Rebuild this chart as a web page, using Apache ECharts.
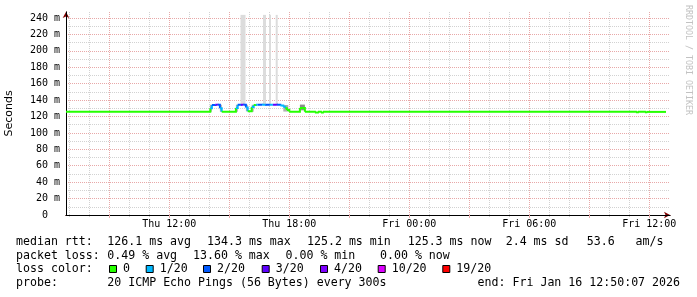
<!DOCTYPE html>
<html><head><meta charset="utf-8">
<script src="https://cdn.jsdelivr.net/npm/echarts@6/dist/echarts.min.js"></script>
<style>html,body{margin:0;padding:0;background:#fff}#c{width:697px;height:297px}</style>
</head><body><div id="c"></div>
<script>
// ---------------- data ----------------
// time in hours since Thu 00:00
const startHour = 6.835;   // Thu 06:50:07
const endHour = 36.835;    // Fri 12:50:07
const xTickHours = [12, 18, 24, 30, 36];
const xTickLabels = ['Thu 12:00', 'Thu 18:00', 'Fri 00:00', 'Fri 06:00', 'Fri 12:00'];
const yTickValues = [0, 20, 40, 60, 80, 100, 120, 140, 160, 180, 200, 220, 240];
const yTickLabels = ['0  ', '20 m', '40 m', '60 m', '80 m', '100 m', '120 m', '140 m', '160 m', '180 m', '200 m', '220 m', '240 m'];

// median rtt (ms), step data: value holds from time until next time; loss = pings lost of 20
const medianTimes  = [6.835, 14.05, 14.13, 14.30, 14.42, 14.53, 14.62, 15.33, 15.42, 15.58, 15.70, 15.83, 15.92,
                      16.12, 16.22, 16.33, 16.42, 16.65, 16.80, 17.03, 17.18, 17.38, 17.55, 17.70, 17.80, 17.88,
                      18.00, 18.53, 18.78, 19.28, 19.43, 19.58, 19.68, 35.33, 35.43, 35.78, 35.85];
const medianValues = [125.8, 130.0, 134.0, 134.3, 134.2, 130.0, 125.8, 130.5, 134.2, 134.3, 134.2, 131.0, 126.3,
                      131.5, 134.0, 134.3, 134.3, 134.2, 134.3, 134.3, 134.3, 134.2, 133.5, 132.0, 130.0, 128.0,
                      125.8, 130.5, 125.8, 125.0, 125.8, 125.0, 125.8, 125.2, 125.8, 125.2, 125.6];
const medianLoss   = [0, 1, 2, 3, 2, 1, 0, 1, 2, 3, 2, 1, 0,
                      1, 0, 1, 2, 1, 2, 1, 3, 2, 1, 1, 0, 0,
                      0, 0, 0, 0, 0, 0, 0, 0, 0, 0, 0];

// smoke (ping spread) ranges
const smokeStart = [14.03, 14.53, 15.33, 15.56, 15.83, 16.12, 16.685, 16.985, 17.32, 17.70, 18.53];
const smokeEnd   = [14.13, 14.63, 15.43, 15.81, 15.93, 16.22, 16.835, 17.085, 17.42, 17.95, 18.78];
const smokeLow   = [125.8, 125.8, 125.8, 134.3, 126.3, 125.8, 134.3, 134.3, 134.3, 126.0, 127.5];
const smokeHigh  = [134.3, 134.3, 134.3, 243.8, 134.3, 134.3, 243.8, 243.8, 243.8, 134.0, 134.5];

const lossLevels = [0, 1, 2, 3, 4, 10, 19];
const lossLabels = ['0', '1/20', '2/20', '3/20', '4/20', '10/20', '19/20'];
const lossColors = ['#26ff00', '#00b8ff', '#0059ff', '#5e00ff', '#7e00ff', '#dd00ff', '#ff0000'];

const statRtt  = ['median rtt:', '126.1 ms avg', '134.3 ms max', '125.2 ms min', '125.3 ms now', '2.4 ms sd', '53.6   am/s'];
const statLoss = ['packet loss:', '0.49 % avg', '13.60 % max', '0.00 % min', '0.00 % now'];
const probeText = ['probe:', '20 ICMP Echo Pings (56 Bytes) every 300s', 'end: Fri Jan 16 12:50:07 2026'];

// ---------------- chart ----------------
const MONO = 'DejaVu Sans Mono';
const minorHours = [7, 8, 10, 11, 13, 14, 16, 17, 19, 20, 22, 23, 25, 26, 28, 29, 31, 32, 34, 35];
const majorHours = [9, 12, 15, 18, 21, 24, 27, 30, 33, 36];
const minorMs = [10, 30, 50, 70, 90, 110, 130, 150, 170, 190, 210, 230];
const axisEndHour = startHour + 30.2;
const yMax = 247.3;
const MAJ = '#e8a8a8', MIN = '#d2d2d2';

function lossColor(l) {
  let c = lossColors[0];
  for (let i = 0; i < lossLevels.length; i++) if (l >= lossLevels[i]) c = lossColors[i];
  return c;
}
function shade(span) { return span > 50 ? '#dcdcdc' : (span > 7.5 ? '#b0b0b0' : '#8c8c8c'); }

const medianSegs = medianTimes.map((t, i) => {
  const last = i === medianTimes.length - 1;
  return [t, last ? endHour : medianTimes[i + 1], medianValues[i], medianLoss[i], last ? medianValues[i] : medianValues[i + 1]];
});
const smokeData = smokeStart.map((t, i) => [t, smokeEnd[i], smokeLow[i], smokeHigh[i]]);

const rowY = [242, 255.5, 269, 282.5];
const rttX = [16, 107.3, 207, 307, 407.7, 505.7, 586.7];
const lossX = [16, 107.3, 193, 285.5, 380];
const boxX = [109, 145.7, 203, 261.7, 320, 377.7, 442.3];
const FS = 11.6;

const graphics = [];
function txt(x, y, s, align) {
  graphics.push({type: 'text', x: x, y: y, silent: true,
    style: {text: s, fontFamily: MONO, fontSize: FS, fill: '#000', align: align || 'left', verticalAlign: 'middle'}});
}
statRtt.forEach((s, i) => txt(rttX[i], rowY[0], s));
statLoss.forEach((s, i) => txt(lossX[i], rowY[1], s));
txt(16, rowY[2], 'loss color:');
lossLabels.forEach((s, i) => {
  graphics.push({type: 'rect', silent: true, shape: {x: boxX[i] + 0.5, y: rowY[2] - 3.5, width: 7, height: 7},
    style: {fill: lossColors[i], stroke: '#000', lineWidth: 1}});
  txt(boxX[i] + 14, rowY[2], s);
});
txt(16, rowY[3], probeText[0]);
txt(107.3, rowY[3], probeText[1]);
txt(680, rowY[3], probeText[2], 'right');
graphics.push({type: 'text', x: 688, y: 60, rotation: -Math.PI / 2, silent: true,
  style: {text: 'RRDTOOL / TOBI OETIKER', fontFamily: MONO, fontSize: 8.3, fill: '#c2c2c2', align: 'center', verticalAlign: 'middle'}});

const chart = echarts.init(document.getElementById('c'));
chart.setOption({
  animation: false,
  backgroundColor: '#ffffff',
  grid: {left: 66, right: 27, top: 12, bottom: 82, containLabel: false, outerBoundsMode: 'none'},
  xAxis: [
    {type: 'value', min: startHour, max: axisEndHour, position: 'bottom', z: 1,
     axisLine: {show: true, lineStyle: {color: '#7f0000', width: 1}, symbol: ['none', 'arrow'], symbolSize: [5, 6]},
     axisTick: {show: true, customValues: minorHours, length: 2, lineStyle: {color: MIN}},
     axisLabel: {show: false},
     splitLine: {show: true, lineStyle: {color: MIN, width: 1, type: [1, 1]}}},
    {type: 'value', min: startHour, max: axisEndHour, position: 'bottom', z: 2,
     axisLine: {show: true, lineStyle: {color: '#000', width: 1}},
     axisTick: {show: true, customValues: majorHours, length: 3, lineStyle: {color: MAJ}},
     axisLabel: {show: true, customValues: xTickHours, margin: 4, fontFamily: MONO, fontSize: 10, color: '#000',
       formatter: v => { const i = xTickHours.findIndex(h => Math.abs(h - v) < 1e-6); return i >= 0 ? xTickLabels[i] : ''; }},
     splitLine: {show: true, lineStyle: {color: MAJ, width: 1, type: [1, 1]}}}
  ],
  yAxis: [
    {type: 'value', min: 0, max: yMax, position: 'left', z: 2,
     name: 'Seconds', nameLocation: 'middle', nameGap: 51,
     nameTextStyle: {fontFamily: 'DejaVu Sans', fontSize: 11, color: '#000'},
     axisLine: {show: true, lineStyle: {color: '#000', width: 1}},
     axisTick: {show: false, customValues: yTickValues},
     axisLabel: {show: true, customValues: yTickValues, margin: 6, fontFamily: MONO, fontSize: 10, color: '#000',
       formatter: v => { const i = yTickValues.indexOf(Math.round(v)); return i >= 0 ? yTickLabels[i] : ''; }},
     splitLine: {show: true, showMinLine: false, lineStyle: {color: MAJ, width: 1, type: [1, 1]}}},
    {type: 'value', min: 0, max: yMax, position: 'left', offset: 0, z: 1,
     axisLine: {show: true, lineStyle: {color: '#7f0000', width: 1}, symbol: ['none', 'arrow'], symbolSize: [5, 6]},
     axisTick: {show: false, customValues: minorMs},
     axisLabel: {show: false},
     splitLine: {show: true, lineStyle: {color: MIN, width: 1, type: [1, 1]}}}
  ],
  series: [
    {type: 'custom', name: 'smoke', xAxisIndex: 0, yAxisIndex: 0, silent: true, z: 3,
     data: smokeData, encode: {x: [0, 1], y: [2, 3]},
     renderItem: (p, api) => {
       const a = api.coord([api.value(0), api.value(3)]);
       const b = api.coord([api.value(1), api.value(2)]);
       return {type: 'rect', shape: {x: a[0], y: a[1], width: b[0] - a[0], height: b[1] - a[1]},
               style: {fill: shade(api.value(3) - api.value(2))}};
     }},
    {type: 'custom', name: 'median', xAxisIndex: 0, yAxisIndex: 0, silent: true, z: 4,
     data: medianSegs, encode: {x: [0, 1], y: [2, 4]},
     renderItem: (p, api) => {
       const p1 = api.coord([api.value(0), api.value(2)]);
       const p2 = api.coord([api.value(1), api.value(2)]);
       const p3 = api.coord([api.value(1), api.value(4)]);
       return {type: 'polyline', shape: {points: [p1, p2, p3]},
               style: {stroke: lossColor(api.value(3)), lineWidth: 2, fill: null, lineJoin: 'miter', lineCap: 'butt'}};
     }}
  ],
  graphic: graphics
});
</script>
</body></html>
